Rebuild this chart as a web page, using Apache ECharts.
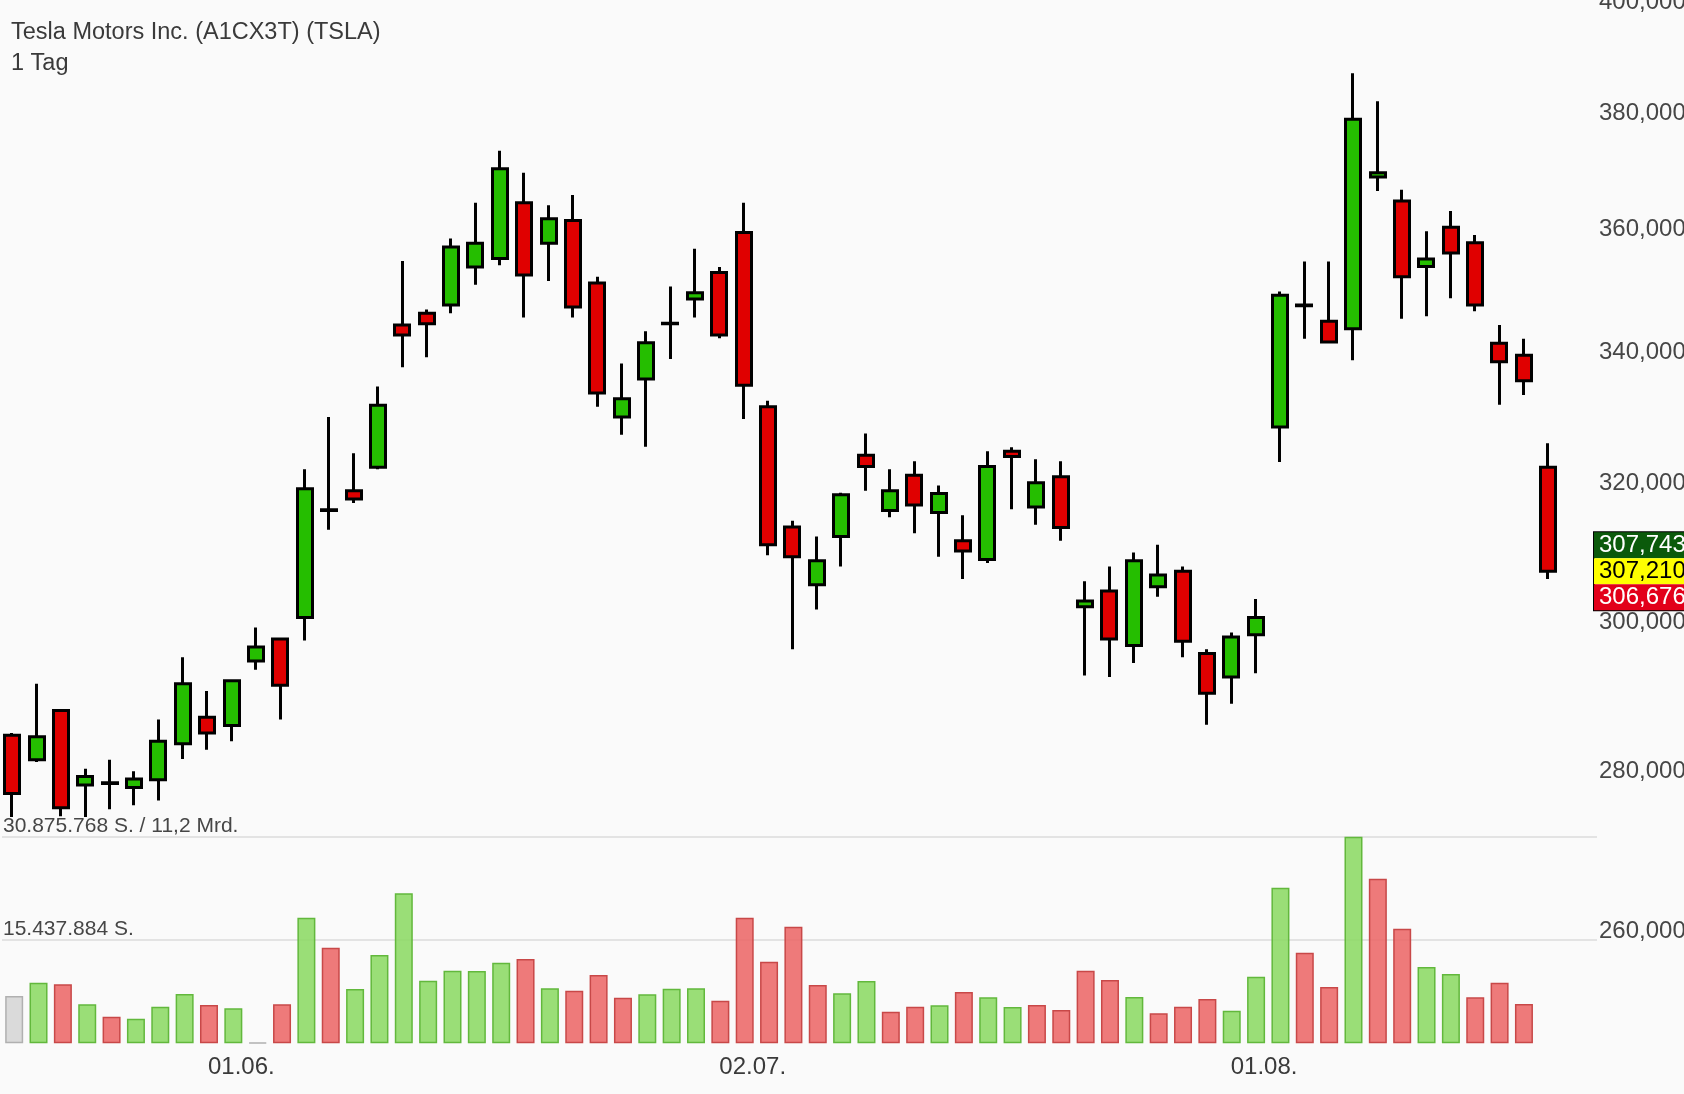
<!DOCTYPE html>
<html>
<head>
<meta charset="utf-8">
<script src="https://cdn.jsdelivr.net/npm/echarts@6/dist/echarts.min.js"></script>
<style>
html,body{margin:0;padding:0;background:#fafafa;}
#c{width:1684px;height:1094px;}
</style>
</head>
<body>
<div id="c"></div>
<script>
// ---- data ----
const titleText = 'Tesla Motors Inc. (A1CX3T) (TSLA)';
const periodText = '1 Tag';
const dates = [
 '2018-05-18','2018-05-21','2018-05-22','2018-05-23','2018-05-24','2018-05-25','2018-05-29','2018-05-30','2018-05-31',
 '2018-06-01','2018-06-04','2018-06-05','2018-06-06','2018-06-07','2018-06-08','2018-06-11','2018-06-12','2018-06-13','2018-06-14','2018-06-15',
 '2018-06-18','2018-06-19','2018-06-20','2018-06-21','2018-06-22','2018-06-25','2018-06-26','2018-06-27','2018-06-28','2018-06-29',
 '2018-07-02','2018-07-03','2018-07-05','2018-07-06','2018-07-09','2018-07-10','2018-07-11','2018-07-12','2018-07-13','2018-07-16',
 '2018-07-17','2018-07-18','2018-07-19','2018-07-20','2018-07-23','2018-07-24','2018-07-25','2018-07-26','2018-07-27','2018-07-30','2018-07-31',
 '2018-08-01','2018-08-02','2018-08-03','2018-08-06','2018-08-07','2018-08-08','2018-08-09','2018-08-10','2018-08-13','2018-08-14','2018-08-15','2018-08-16','2018-08-17'
];
const openPrices = [284.7,281.5,288.0,278.2,278.5,277.9,278.9,283.6,287.1,286.0,294.7,297.7,300.7,316.1,318.9,322.4,344.4,346.3,347.6,353.8,
 355.2,364.5,357.7,361.5,351.2,330.0,335.9,344.6,348.6,352.9,359.5,331.6,313.6,305.3,312.2,324.2,316.0,321.2,315.7,311.6,
 308.9,324.8,316.5,321.0,302.2,304.4,296.8,305.0,307.2,295.7,292.5,298.3,328.5,347.5,345.0,343.8,368.9,364.8,353.9,360.4,
 357.8,341.5,339.6,322.4];
const closePrices = [277.1,284.5,275.3,279.3,278.4,279.0,283.9,291.6,285.0,292.0,296.6,291.4,319.2,316.0,317.7,331.8,342.8,344.6,357.1,357.7,
 370.3,352.5,361.8,347.3,333.7,332.8,341.6,344.7,349.6,342.8,334.9,311.0,309.3,308.7,318.3,322.5,318.9,316.8,318.5,310.1,
 322.5,324.0,320.1,313.5,303.0,297.7,308.7,306.7,297.4,290.3,298.0,300.7,349.2,347.6,341.7,378.9,369.6,352.2,355.1,356.1,
 347.6,338.6,335.6,307.2];
const lowPrices = [274.1,281.2,274.2,274.1,275.1,275.6,276.2,281.6,282.8,283.9,293.5,286.8,297.5,313.2,317.1,322.1,337.7,339.3,346.3,350.9,
 354.1,345.6,351.5,345.6,331.6,327.3,325.5,339.0,345.6,342.3,329.7,309.5,296.3,301.8,307.9,318.9,315.0,312.7,309.3,306.1,
 308.4,316.2,313.9,311.6,292.7,292.5,294.4,303.6,295.2,286.1,288.9,293.0,323.2,342.2,341.5,338.8,366.5,345.4,345.8,348.7,
 346.6,331.9,333.4,306.1];
const highPrices = [285.0,291.6,288.2,280.3,281.5,280.0,286.8,295.2,290.6,292.2,299.3,297.9,322.1,330.0,324.5,334.7,354.8,346.9,358.5,364.5,
 373.4,369.6,364.1,365.8,352.2,338.3,343.4,350.6,356.8,353.8,364.5,332.5,314.5,312.2,318.6,327.5,322.1,323.3,319.7,315.3,
 324.8,325.4,323.6,323.3,305.8,307.9,309.9,311.0,307.9,296.3,298.6,303.3,349.8,354.7,354.7,387.1,382.1,366.7,359.7,363.1,
 359.1,344.4,342.2,326.0];
const volumes = [7070000,9060000,8820000,5830000,3980000,3680000,5470000,7370000,5720000,5230000,120000,5830000,18770000,14290000,8120000,
 13200000,22420000,9360000,10850000,10800000,12050000,12600000,8220000,7860000,10210000,6820000,7320000,8160000,8220000,6370000,
 18770000,12200000,17430000,8710000,7470000,9310000,4720000,5470000,5680000,7670000,6870000,5430000,5720000,4980000,10850000,
 9460000,6920000,4480000,5470000,6620000,4870000,9950000,23260000,13540000,8410000,30875768,24600000,17130000,11400000,10360000,
 6870000,9060000,5870000];
const neutralVolumeDays = [0, 10];
const priceTicks = [260, 280, 300, 320, 340, 360, 380, 400];
const quotes = [307.743, 307.210, 306.676];
const maxVolumeTurnover = '11,2 Mrd.';

// ---- helpers ----
const FONT = "'Liberation Sans', Arial, sans-serif";
const fmtPrice = v => Number(v).toFixed(3).replace('.', ',');
const fmtShares = v => Math.round(v).toString().replace(/\B(?=(\d{3})+(?!\d))/g, '.');
const fmtDate = s => s.slice(8, 10) + '.' + s.slice(5, 7) + '.';

const maxVol = Math.max(...volumes);
const monthStarts = dates.map((d, i) => i).filter(i => i > 0 && dates[i].slice(5, 7) !== dates[i - 1].slice(5, 7));

const candleData = dates.map((d, i) => [i, openPrices[i], closePrices[i], lowPrices[i], highPrices[i]]);
const UP = {color: 'rgba(140,218,100,0.88)', borderColor: '#62b83c'};
const DOWN = {color: 'rgba(236,104,104,0.88)', borderColor: '#c84848'};
const FLAT = {color: 'rgba(214,214,214,0.9)', borderColor: '#b0b0b0'};
const volData = volumes.map((v, i) => {
  let st;
  if (neutralVolumeDays.indexOf(i) >= 0) st = FLAT;
  else st = closePrices[i] >= closePrices[i - 1] ? UP : DOWN;
  return {value: [i, v], itemStyle: {color: st.color, borderColor: st.borderColor, borderWidth: 1.5}};
});

const chart = echarts.init(document.getElementById('c'), null, {renderer: 'canvas'});
const richRow = (bg, fg) => ({backgroundColor: bg, color: fg, fontSize: 24, fontFamily: FONT, width: 96, height: 26, lineHeight: 26, padding: [0, 0, 0, 5]});
const option = {
  backgroundColor: '#fafafa',
  animation: false,
  title: {
    text: titleText,
    subtext: periodText,
    left: 6, top: 16, itemGap: 7,
    textStyle: {fontSize: 23.5, fontWeight: 'normal', color: '#3a3a3a', fontFamily: FONT},
    subtextStyle: {fontSize: 23.5, color: '#3a3a3a', fontFamily: FONT}
  },
  grid: [
    {left: 0, right: 87, top: 2.5, bottom: 78.6},
    {left: 0, right: 87, top: 836.7, bottom: 50.7}
  ],
  xAxis: [
    {gridIndex: 0, type: 'value', min: -0.5, max: 65, show: false},
    {gridIndex: 1, type: 'value', min: -0.5, max: 65,
     axisLine: {show: false}, axisTick: {show: false}, splitLine: {show: false},
     axisLabel: {customValues: monthStarts, margin: 12, fontSize: 24, color: '#3a3a3a', fontFamily: FONT,
       padding: [0, 0, 0, 16],
       formatter: v => { const i = Math.round(v); return dates[i] ? fmtDate(dates[i]) : ''; }}}
  ],
  yAxis: [
    {gridIndex: 0, type: 'log', logBase: 10, min: 250, max: 400, show: false},
    {gridIndex: 1, type: 'value', min: 0, max: maxVol, interval: maxVol / 2, position: 'left',
     axisLine: {show: false}, axisTick: {show: false},
     splitLine: {show: true, lineStyle: {color: ['rgba(0,0,0,0)', '#e3e3e3', '#e3e3e3'], width: 2}},
     axisLabel: {inside: true, margin: 1, align: 'left', verticalAlign: 'bottom', fontSize: 21, color: '#464646', fontFamily: FONT,
       formatter: v => v === 0 ? '' : (v >= maxVol ? fmtShares(v) + ' S. / ' + maxVolumeTurnover : fmtShares(v) + ' S.')}}
  ],
  series: [
    {
      type: 'candlestick', xAxisIndex: 0, yAxisIndex: 0,
      data: candleData, encode: {x: 0, y: [1, 2, 3, 4]},
      barWidth: 15.5,
      itemStyle: {color: '#25be00', color0: '#e00000', borderColor: '#000', borderColor0: '#000', borderColorDoji: '#000', borderWidth: 3},
      markLine: {
        symbol: 'none', silent: true, animation: false,
        lineStyle: {color: 'rgba(0,0,0,0)', width: 1, type: 'solid'},
        label: {show: true, position: 'end', distance: 2, color: '#464646', fontSize: 24, fontFamily: FONT,
          formatter: p => fmtPrice(p.value)},
        data: priceTicks.map(v => ({yAxis: v})).concat([{
          yAxis: quotes[1],
          label: {show: true, position: 'end', distance: -3, padding: 0, borderColor: '#000', borderWidth: 2,
            formatter: () => '{g|' + fmtPrice(quotes[0]) + '}\n{y|' + fmtPrice(quotes[1]) + '}\n{r|' + fmtPrice(quotes[2]) + '}',
            rich: {
              g: richRow('#0b5a0b', '#ffffff'),
              y: richRow('#ffff00', '#000000'),
              r: richRow('#e2001a', '#ffffff')
            }}
        }])
      }
    },
    {
      type: 'bar', xAxisIndex: 1, yAxisIndex: 1,
      barWidth: 18,
      data: volData
    }
  ]
};
chart.setOption(option);
</script>
</body>
</html>
